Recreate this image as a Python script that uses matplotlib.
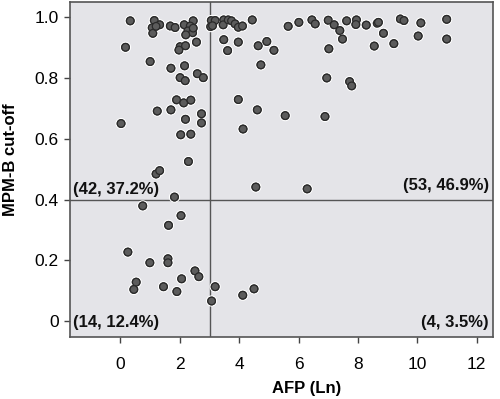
import matplotlib
matplotlib.use("Agg")
import matplotlib.pyplot as plt
import matplotlib.patheffects as pe

plt.rcParams['font.family'] = ['Liberation Sans', 'DejaVu Sans']

# AFP (Ln) values and MPM-B cut-off values
afp = [
    # upper-left quadrant
    0.33, 1.14, 1.07, 1.32, 1.09, 1.20, 1.68, 1.84, 2.15, 2.45, 2.35, 2.27, 2.43, 2.20, 2.45,
    0.17, 1.00, 2.01, 1.97, 2.19, 2.56,
    1.70, 2.16, 2.01, 2.18, 2.59, 2.79,
    1.89, 2.13, 2.37, 1.24, 1.70, 2.19, 2.73, 2.73, 0.02, 2.03, 2.37,
    2.29, 1.20, 1.32, 1.82,
    # upper-right quadrant
    3.06, 3.19, 3.04, 3.10,
    3.48, 3.46, 3.63, 3.74, 3.86, 3.97, 4.11, 4.44, 5.65, 6.01, 6.45, 6.56, 7.00, 7.20,
    7.39, 7.62, 7.95, 7.93, 7.48,
    3.48, 3.61, 3.97, 4.64, 4.93, 5.17, 7.02,
    4.73, 6.95, 7.72, 7.79,
    3.97, 4.61, 5.55, 6.89, 4.13,
    8.28, 8.65, 8.69, 8.86, 9.43, 9.55, 10.12, 10.99, 8.55, 9.21, 10.03, 10.99,
    4.56, 6.29,
    # lower-left quadrant
    0.75, 2.04, 1.62, 0.25, 0.99, 1.60, 1.60, 2.51, 2.64, 0.53, 0.45, 1.45, 1.90, 2.06,
    # lower-right quadrant
    3.19, 3.07, 4.12, 4.50,
]
mpmb = [
    0.988, 0.989, 0.965, 0.975, 0.947, 0.970, 0.971, 0.966, 0.975, 0.988, 0.971, 0.955, 0.949, 0.942, 0.964,
    0.901, 0.854, 0.903, 0.892, 0.906, 0.918,
    0.832, 0.840, 0.801, 0.791, 0.814, 0.801,
    0.728, 0.718, 0.727, 0.691, 0.695, 0.664, 0.682, 0.652, 0.650, 0.613, 0.615,
    0.525, 0.484, 0.495, 0.408,
    0.989, 0.989, 0.969, 0.972,
    0.991, 0.975, 0.991, 0.988, 0.978, 0.967, 0.971, 0.991, 0.970, 0.983, 0.991, 0.978, 0.990, 0.975,
    0.956, 0.988, 0.991, 0.976, 0.928,
    0.926, 0.890, 0.918, 0.906, 0.920, 0.891, 0.896,
    0.843, 0.800, 0.788, 0.774,
    0.729, 0.695, 0.676, 0.673, 0.632,
    0.974, 0.980, 0.983, 0.947, 0.994, 0.989, 0.981, 0.993, 0.905, 0.913, 0.938, 0.928,
    0.441, 0.435,
    0.379, 0.347, 0.315, 0.227, 0.192, 0.205, 0.192, 0.165, 0.146, 0.128, 0.104, 0.113, 0.097, 0.139,
    0.113, 0.066, 0.085, 0.106,
]

afp_cut = 3
mpmb_cut = 0.4
quadrant_labels = ["(42, 37.2%)", "(53, 46.9%)", "(14, 12.4%)", "(4, 3.5%)"]

xticks = [0, 2, 4, 6, 8, 10, 12]
yticks = [0, 0.2, 0.4, 0.6, 0.8, 1.0]
yticklabels = ["0", "0.2", "0.4", "0.6", "0.8", "1.0"]

fig = plt.figure(figsize=(5.0, 3.99), dpi=100)
ax = fig.add_axes([0.14, 0.155, 0.846, 0.84])
ax.set_facecolor('#e4e4e8')

ax.scatter(afp, mpmb, s=30, facecolor='#5c5c5c', edgecolor='#2a2a2a', linewidths=0.9, zorder=3,
           path_effects=[pe.withStroke(linewidth=2.6, foreground='white'), pe.Normal()])

ax.axvline(afp_cut, color='#555555', lw=1.0, zorder=2)
ax.axhline(mpmb_cut, color='#555555', lw=1.0, zorder=2)

ax.set_xlim(-1.7, 12.55)
ax.set_ylim(-0.053, 1.05)

ax.set_xticks(xticks)
ax.set_yticks(yticks)
ax.set_yticklabels(yticklabels)
ax.tick_params(axis='both', labelsize=12.5, length=4, width=1, color='#444444', direction='out')
ax.tick_params(axis='x', pad=10)
ax.tick_params(axis='y', pad=4)

for s in ax.spines.values():
    s.set_color('#555555')
    s.set_linewidth(1.2)

ax.set_xlabel('AFP (Ln)', fontsize=12, fontweight='bold')
ax.xaxis.set_label_coords(0.56, -0.132)
ax.set_ylabel('MPM-B cut-off', fontsize=12, fontweight='bold')
ax.yaxis.set_label_coords(-0.122, 0.53)

kw = dict(fontsize=12, fontweight='bold', transform=ax.transAxes, va='center', color='#111111')
ax.text(0.008, 0.442, quadrant_labels[0], ha='left', **kw)
ax.text(0.99, 0.451, quadrant_labels[1], ha='right', **kw)
ax.text(0.008, 0.045, quadrant_labels[2], ha='left', **kw)
ax.text(0.99, 0.045, quadrant_labels[3], ha='right', **kw)

fig.savefig('out.png', dpi=100)
